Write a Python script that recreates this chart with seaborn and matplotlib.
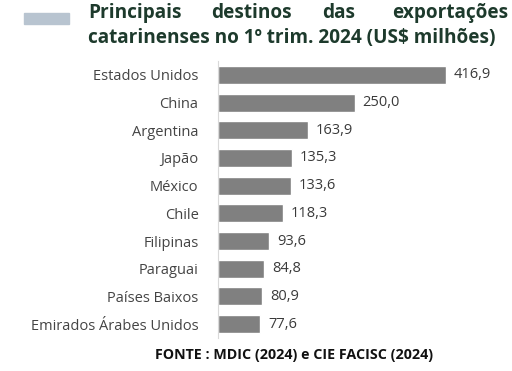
import matplotlib.pyplot as plt
import seaborn as sns
import pandas as pd
from matplotlib.patches import Rectangle

# data
paises = ["Estados Unidos", "China", "Argentina", "Japão", "México", "Chile",
          "Filipinas", "Paraguai", "Países Baixos", "Emirados Árabes Unidos"]
valores = [416.9, 250.0, 163.9, 135.3, 133.6, 118.3, 93.6, 84.8, 80.9, 77.6]

titulo_l1 = ["Principais", "destinos", "das", "exportações"]
titulo_l2 = "catarinenses no 1º trim. 2024 (US$ milhões)"
fonte = "FONTE : MDIC (2024) e CIE FACISC (2024)"

df = pd.DataFrame({"pais": paises, "valor": valores})

sns.set_theme(style="white")
plt.rcParams["font.family"] = ["Open Sans", "DejaVu Sans"]

W, H = 512, 371
fig = plt.figure(figsize=(W / 100, H / 100), dpi=100)
ax = fig.add_axes([218 / W, 1 - 338 / H, (W - 218) / W, 277 / H])

sns.barplot(data=df, x="valor", y="pais", color="#808080", saturation=1,
            width=0.65, ax=ax)
ax.set_xlim(0, 537)
ax.set_ylim(9.5, -0.5)
ax.set_xlabel("")
ax.set_ylabel("")
ax.set_xticks([])
for s in ["top", "right", "bottom"]:
    ax.spines[s].set_visible(False)
ax.spines["left"].set_color("#d9d9d9")
ax.spines["left"].set_linewidth(0.8)
ax.tick_params(axis="y", length=0, pad=14, labelsize=10.5, labelcolor="#444444")

for i, v in enumerate(valores):
    ax.text(v + 14, i, f"{v:.1f}".replace(".", ","), va="center", ha="left",
            fontsize=10.5, color="#3a3a3a")

# legend-like swatch next to the title
fig.patches.append(Rectangle((24 / W, 1 - 24 / H), 45 / W, 11 / H,
                             transform=fig.transFigure, color="#b8c4d0"))

# justified first title line
tkw = dict(fontsize=13.7, fontweight="bold", color="#1d3a2c", va="center")
fig.text(88 / W, 1 - 13 / H, titulo_l1[0], ha="left", **tkw)
fig.text(251 / W, 1 - 13 / H, titulo_l1[1], ha="center", **tkw)
fig.text(339 / W, 1 - 13 / H, titulo_l1[2], ha="center", **tkw)
fig.text(508 / W, 1 - 13 / H, titulo_l1[3], ha="right", **tkw)
fig.text(88 / W, 1 - 38 / H, titulo_l2, ha="left", **tkw)

fig.text(294 / W, 1 - 355 / H, fonte, ha="center", va="center",
         fontsize=10.3, fontweight="bold", color="#111111")

fig.savefig("out.png", dpi=100)
